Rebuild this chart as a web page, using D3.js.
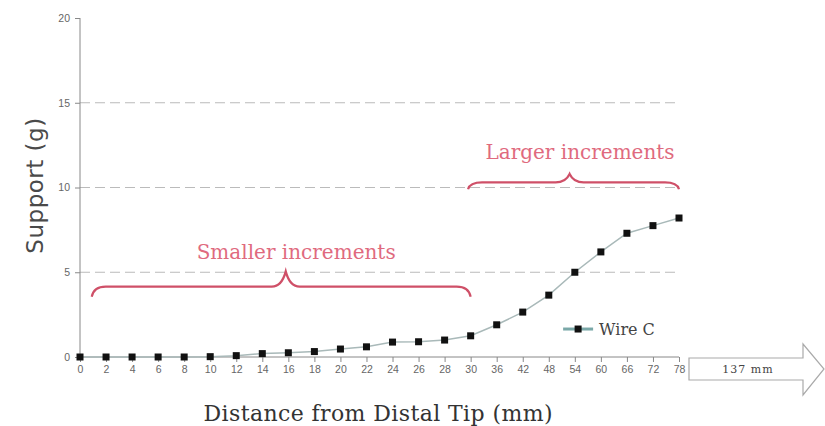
<!DOCTYPE html>
<html>
<head>
<meta charset="utf-8">
<script src="https://cdn.jsdelivr.net/npm/d3@7"></script>
<style>
  body { margin: 0; background: #fff; }
  .axis path, .axis line { stroke: #888; }
  .axis text { fill: #666; font-family: "Liberation Sans", sans-serif; font-size: 10.5px; }
</style>
</head>
<body>
<script>
// distances (mm) along the wire
var distances = ["0","2","4","6","8","10","12","14","16","18","20","22","24","26","28","30","36","42","48","54","60","66","72","78"];
// support values (g) for Wire C
var wireC = [0, 0, 0, 0, 0, 0.02, 0.08, 0.2, 0.25, 0.32, 0.47, 0.6, 0.88, 0.9, 1.0, 1.25, 1.9, 2.65, 3.65, 5.0, 6.2, 7.3, 7.75, 8.2];
var yTicks = [0, 5, 10, 15, 20];
var gridValues = [5, 10, 15];

var margin = { top: 18, right: 146, bottom: 69, left: 80 },
  width = 825 - margin.left - margin.right,
  height = 426 - margin.top - margin.bottom;

var xScale = d3.scalePoint()
  .domain(distances)
  .range([0, width]);

var yScale = d3.scaleLinear()
  .domain([0, 20])
  .range([height, 0]);

// helper for annotations placed by category index (fractional)
var xi = d3.scaleLinear().domain([0, distances.length - 1]).range([0, width]);

var svg = d3.select("body").append("svg")
  .attr("width", 825)
  .attr("height", 426)
  .append("g")
  .attr("transform", "translate(" + margin.left + "," + margin.top + ")");

svg.selectAll(".grid")
  .data(gridValues)
  .enter().append("line")
  .attr("class", "grid")
  .attr("x1", 0)
  .attr("x2", width)
  .attr("y1", function (d) { return yScale(d); })
  .attr("y2", function (d) { return yScale(d); })
  .style("stroke", "#bbb")
  .style("stroke-width", 1.2)
  .style("stroke-dasharray", "10,5");

svg.append("g")
  .attr("class", "x axis")
  .attr("transform", "translate(0," + height + ")")
  .call(d3.axisBottom(xScale).tickSize(5).tickPadding(4))
  .call(function (g) { g.select(".domain").attr("d", "M0,0H" + width); });

svg.append("g")
  .attr("class", "y axis")
  .call(d3.axisLeft(yScale).tickValues(yTicks).tickSize(5).tickPadding(5))
  .call(function (g) { g.select(".domain").attr("d", "M0," + height + "V0"); });

svg.append("text")
  .attr("transform", "translate(-37," + (yScale(10) - 2) + ") rotate(-90)")
  .attr("text-anchor", "middle")
  .style("font-family", "'DejaVu Sans', sans-serif")
  .style("font-size", "23px")
  .style("letter-spacing", "0.5px")
  .style("fill", "#4a4a4a")
  .text("Support (g)");

svg.append("text")
  .attr("x", xi(11.45))
  .attr("y", height + 64)
  .attr("text-anchor", "middle")
  .style("font-family", "'DejaVu Serif', serif")
  .style("font-size", "22px")
  .style("letter-spacing", "0.4px")
  .style("fill", "#333")
  .text("Distance from Distal Tip (mm)");

var line = d3.line()
  .x(function (d, i) { return xScale(distances[i]); })
  .y(function (d) { return yScale(d); });

svg.append("path")
  .datum(wireC)
  .attr("d", line)
  .style("fill", "none")
  .style("stroke", "#a9b9b9")
  .style("stroke-width", 1.5);

svg.selectAll(".dot")
  .data(wireC)
  .enter().append("rect")
  .attr("class", "dot")
  .attr("x", function (d, i) { return xScale(distances[i]) - 3.5; })
  .attr("y", function (d) { return yScale(d) - 3.5; })
  .attr("width", 7)
  .attr("height", 7)
  .style("fill", "#111");

// legend
var lg = svg.append("g").attr("transform", "translate(" + xi(18.55) + "," + yScale(1.65) + ")");
lg.append("line").attr("x1", 0).attr("x2", 30).attr("y1", 0).attr("y2", 0)
  .style("stroke", "#7aa8a8").style("stroke-width", 3);
lg.append("rect").attr("x", 11.5).attr("y", -3.5).attr("width", 7).attr("height", 7).style("fill", "#111");
lg.append("text").attr("x", 36).attr("y", 6)
  .style("font-family", "'DejaVu Serif', serif").style("font-size", "16px").style("fill", "#444")
  .text("Wire C");

// braces with labels
var braces = [
  { from: 0.45, to: 15, peak: 7.9, base: 3.55, level: 4.15, top: 5.05, label: "Smaller increments", labelX: 8.3, labelY: 5.8 },
  { from: 14.9, to: 23, peak: 18.8, base: 9.9, level: 10.3, top: 10.8, label: "Larger increments", labelX: 19.2, labelY: 11.7 }
];

function bracePath(b) {
  var x0 = xi(b.from), x1 = xi(b.to), xm = xi(b.peak);
  var yb = yScale(b.base), yl = yScale(b.level), yt = yScale(b.top);
  var r = 14;
  return "M" + x0 + "," + yb +
    "Q" + (x0 + 2) + "," + yl + " " + (x0 + r) + "," + yl +
    "L" + (xm - r) + "," + yl +
    "Q" + (xm - 4) + "," + yl + " " + xm + "," + yt +
    "Q" + (xm + 4) + "," + yl + " " + (xm + r) + "," + yl +
    "L" + (x1 - r) + "," + yl +
    "Q" + (x1 - 2) + "," + yl + " " + x1 + "," + yb;
}

svg.selectAll(".brace")
  .data(braces)
  .enter().append("path")
  .attr("class", "brace")
  .attr("d", bracePath)
  .style("fill", "none")
  .style("stroke", "#cf5068")
  .style("stroke-width", 2.2);

svg.selectAll(".blabel")
  .data(braces)
  .enter().append("text")
  .attr("class", "blabel")
  .attr("x", function (d) { return xi(d.labelX); })
  .attr("y", function (d) { return yScale(d.labelY); })
  .attr("text-anchor", "middle")
  .style("font-family", "'DejaVu Serif', serif")
  .style("font-size", "20px")
  .style("fill", "#e06a7e")
  .text(function (d) { return d.label; });

// length arrow beyond the last tick
var ax = width + 10, ay = height + 12;
svg.append("path")
  .attr("d", "M" + ax + "," + (ay - 11) + "H" + (ax + 114) + "V" + (ay - 25) +
    "L" + (ax + 135) + "," + ay + "L" + (ax + 114) + "," + (ay + 26) +
    "V" + (ay + 11) + "H" + ax + "Z")
  .style("fill", "#fff")
  .style("stroke", "#aaa")
  .style("stroke-width", 1.2);
svg.append("text")
  .attr("x", ax + 59)
  .attr("y", ay + 4)
  .attr("text-anchor", "middle")
  .style("font-family", "'DejaVu Serif', serif")
  .style("font-size", "11px")
  .style("letter-spacing", "1px")
  .style("fill", "#444")
  .text("137 mm");
</script>
</body>
</html>
